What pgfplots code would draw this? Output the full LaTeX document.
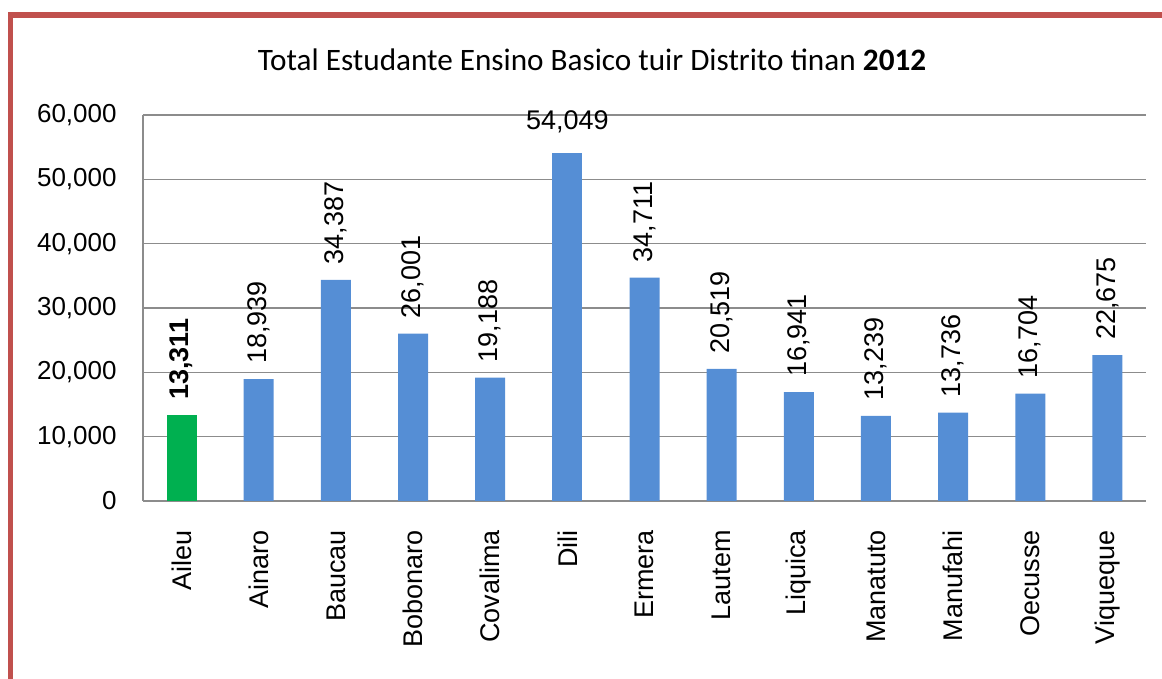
\documentclass[border=0pt]{standalone}
\usepackage{pgfplots}
\pgfplotsset{compat=1.18}
\usepackage{fontspec}
\setmainfont{Liberation Sans}
\newfontfamily\carlito{Carlito}
\definecolor{barblue}{HTML}{558ED5}
\definecolor{bargreen}{HTML}{00B050}
\definecolor{framered}{HTML}{C0504D}
\definecolor{gridc}{HTML}{8C8C8C}
\begin{document}
\begin{tikzpicture}[x=1pt,y=1pt]
\useasboundingbox (-71.5,-89) rectangle (509.5,250.5);
\draw[framered, line width=2.6pt] (-66.25,-89) -- (-66.25,243) -- (509.5,243);
\node[font=\carlito\fontsize{15.6}{18}\selectfont] at (224.5,220.5) {Total Estudante Ensino Basico tuir Distrito tinan \textbf{2012}};
\begin{axis}[
  at={(0,0)}, anchor=south west,
  scale only axis, width=501.5pt, height=193pt,
  xmin=-0.5, xmax=12.5, ymin=0, ymax=60000,
  axis x line*=bottom, axis y line*=left,
  axis line style={gridc, line width=0.7pt, -},
  ytick={0,10000,20000,30000,40000,50000,60000},
  scaled y ticks=false,
  ymajorgrids, grid style={gridc, line width=0.7pt},
  major tick length=0pt,
  /pgf/number format/.cd, fixed, precision=0, 1000 sep={,}, assume math mode=true,
  /pgfplots/.cd,
  yticklabel style={anchor=east, inner sep=0pt, font=\fontsize{13}{15}\selectfont},
  yticklabel shift=13pt,
  xtick={0,1,2,3,4,5,6,7,8,9,10,11,12},
  xticklabels={Aileu,Ainaro,Baucau,Bobonaro,Covalima,Dili,Ermera,Lautem,Liquica,Manatuto,Manufahi,Oecusse,Viqueque},
  xticklabel style={rotate=90, anchor=east, inner sep=0pt, font=\fontsize{13.5}{16}\selectfont},
  xticklabel shift=14.5pt,
  ybar, bar width=15pt, bar shift=0pt,
  nodes near coords,
  every node near coord/.append style={font=\fontsize{13.5}{16}\selectfont, text=black},
]
\addplot[draw=none, fill=bargreen, nodes near coords style={rotate=90, anchor=west, inner xsep=7.5pt, inner ysep=0pt, font=\bfseries\fontsize{13.5}{16}\selectfont}]
  coordinates {(0,13311)};
\addplot[draw=none, fill=barblue, nodes near coords style={rotate=90, anchor=west, inner xsep=7.5pt, inner ysep=0pt}]
  coordinates {(1,18939) (2,34387) (3,26001) (4,19188) (6,34711) (7,20519) (8,16941) (9,13239) (10,13736) (11,16704) (12,22675)};
\addplot[draw=none, fill=barblue, nodes near coords style={anchor=south, inner sep=0pt, yshift=10pt}]
  coordinates {(5,54049)};
\end{axis}
\end{tikzpicture}
\end{document}
